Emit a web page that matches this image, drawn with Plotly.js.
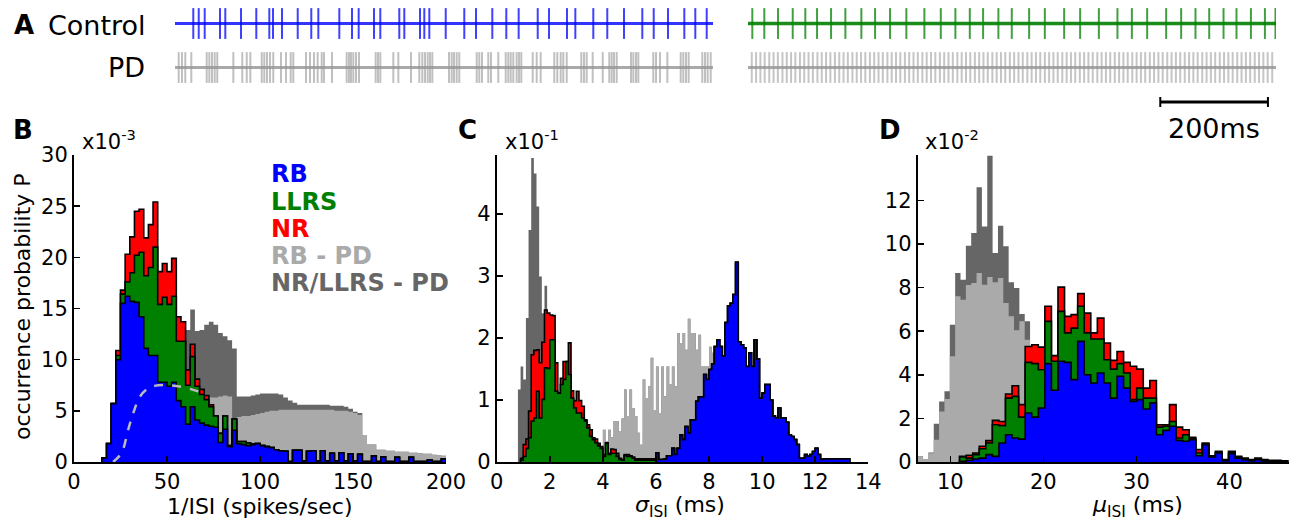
<!DOCTYPE html>
<html><head><meta charset="utf-8">
<script src="https://cdn.plot.ly/plotly-3.0.1.min.js"></script>
<style>html,body{margin:0;padding:0;background:#fff}#chart{width:1296px;height:523px}</style>
</head><body><div id="chart"></div>
<script>
// ================= DATA =================
// Panel A: spike times (ms)
const controlLeftSpikes = [34.0,44.1,55.2,83.6,93.5,122.7,151.1,175.3,182.2,198.9,228.1,253.3,266.4,305.4,329.0,341.4,369.9,381.6,416.9,426.2,455.4,463.4,472.7,503.2,537.7,559.5,589.8,615.8,638.8,674.2,695.2,728.6,744.1,777.5,803.5,834.6,868.6,889.8,916.4,946.7,967.1,988.3];
const pdLeftSpikes = [6.9,13.0,19.1,30.3,58.9,63.8,68.8,73.8,78.6,108.4,125.1,133.3,140.0,161.2,166.0,171.0,176.6,182.7,197.0,206.3,215.1,219.9,243.5,250.9,258.4,265.2,272.7,277.0,291.8,319.1,323.4,327.1,331.4,336.4,342.0,373.0,377.3,381.6,405.8,415.1,438.7,454.1,459.7,464.7,469.7,474.0,478.3,509.3,514.3,518.6,523.6,528.4,560.8,565.6,570.6,582.3,587.4,600.9,614.7,619.5,624.0,628.8,635.1,639.4,643.7,664.9,672.3,679.7,705.0,710.6,716.9,721.7,728.1,755.2,760.2,765.2,776.4,795.0,807.2,811.7,816.0,821.0,847.6,851.9,856.9,861.2,889.0,894.1,901.5,915.1,940.0,944.8,949.8,954.8,980.1,985.1,990.1,995.7];
const controlRightSpikes = [8.0,30.3,55.8,83.1,106.5,128.3,154.3,180.9,210.6,236.1,263.9,294.2,327.7,358.2,385.3,412.1,436.8,465.2,490.1,522.3,551.5,587.4,617.1,651.9,686.4,713.2,741.6,776.9,804.8,831.4,856.9,883.5,907.6,934.4,960.4,980.0];
const pdRightSpikes = [7,15,23,31,39.5,47.5,55.5,64,72,80,88,96.5,104.5,112.5,120.5,129,137,145,153,161.5,169.5,177.5,185.5,194,202,210,218,226.5,234.5,242.5,250.5,259,267,275,283,291.5,299.5,307.5,315.5,324,332,340,348,356.5,364.5,372.5,380.5,389,397,405,413,421.5,429.5,437.5,445.5,454,462,470,478,486.5,494.5,502.5,510.5,519,527,535,543,551.5,559.5,567.5,575.5,584,592,600,608,616.5,624.5,632.5,640.5,649,657,665,673,681.5,689.5,697.5,705.5,714,722,730,738,746.5,754.5,762.5,770.5,779,787,795,803,811.5,819.5,827.5,835.5,844,852,860,868,876.5,884.5,892.5,900.5,909,917,925,933,941.5,949.5,957.5,965.5,974];
const scaleBarMs = 200;

// Panel B: 1/ISI histograms (x1e-3), bin width 2.5 spikes/sec
const B_binWidth = 2.5;
const B_colStart = 15;
const B_RB = [0.4,1.8,5.7,10.0,15.5,16.2,15.7,15.6,14.2,11.1,
  10.4,10.4,7.8,7.8,7.4,7.8,6.0,5.4,3.7,5.4,
  4.1,3.8,3.6,3.5,3.4,1.9,3.2,1.5,3.1,1.8,
  1.7,1.6,1.7,1.8,1.6,1.5,1.4,1.2,1.1,1.05,
  0.05,1.15,1.15,0.1,1.05,1.1,0.1,1.1,0.1,0.85,
  0.1,0.9,0.1,0.8,0.1,0.75,0.05,0.05,0.6,0.05,
  0.5,0.05,0.05,0.45,0.05,0.05,0.45,0.05,0.05,0.05,
  0.2,0.05,0.05,0.3];
const B_LLRS = [0,0,0,0.4,0.9,1.4,2.8,4.6,6.3,7.1,
  8.6,10.6,7.6,8.3,8.0,8.4,5.8,6.4,3.8,4.9,
  3.3,2.8,2.5,1.9,1.1,0.9,1.3,0.1,1.1,0.2,
  0.3,0.25,0.05];
const B_NR = [0,0,0,0.5,0.4,2.7,3.5,4.3,4.2,3.7,
  4.2,4.4,3.2,3.3,3.2,3.7,2.4,1.9,1.5,1.2,
  0.7,0.5,0.4,0.2];
const B_pdStart = 55;
const B_PD_RB = [5.0,5.3,5.6,5.8,6.0,6.1,6.2,6.3,6.3,6.4,
  6.5,6.4,4.3,4.4,4.5,4.5,4.6,4.7,4.8,4.9,
  5.0,5.0,5.1,5.1,5.1,5.1,5.1,5.1,5.1,5.1,
  5.1,5.1,5.1,5.1,5.0,5.0,5.0,4.9,4.8,4.6,
  2.6,1.7,1.7,1.2,1.2,1.1,1.1,1.0,1.0,1.0,
  0.9,0.9,0.85,0.8,0.8,0.7,0.65,0.6];
const B_PD_NRLLRS = [7.5,7.6,7.3,9.1,6.8,6.8,7.2,7.4,7.1,6.2,
  5.8,5.5,6.8,2.0,1.9,1.9,1.9,1.9,1.9,1.8,
  1.7,1.7,1.5,1.2,0.9,0.7,0.5,0.5,0.5,0.5,
  0.5,0.5,0.5,0.4,0.5,0.5,0.4,0.3,0.1,0.2];
const B_dashX = [21,25.6,29.2,31.9,35.5,40,45.3,51.6,58.8,65,69.5];
const B_dashY = [0,0.9,3.2,4.8,6.4,7.2,7.5,7.5,7.3,7.0,6.7];

// Panel C: sigma_ISI histograms (x1e-1), bin width 0.1 ms
const C_binWidth = 0.1;
const C_rbStart = 6.0;
const C_RB = [0.15,0.04,0.04,0.05,0.1,0.1,0.22,0.12,0.22,0.44,
  0.36,0.57,0.47,0.68,0.68,0.98,1.05,1.05,1.41,1.33,
  1.49,1.58,1.86,1.97,1.86,1.71,2.25,2.52,2.56,2.70,
  3.22,1.94,1.89,1.84,1.54,1.76,1.54,1.97,1.66,1.03,
  1.11,1.25,1.25,1.0,0.74,0.71,0.87,0.71,0.71,0.64,
  0.44,0.41,0.36,0.28,0.06,0.06,0.12,0.09,0.12,0.17,
  0.22,0.12,0.04,0.05,0.05,0.05,0.05,0.05,0.05,0.05,
  0.05,0.05,0.05];
const C_nrStart = 0.9;
const C_LLRS = [0.03,0.09,0.22,0.39,0.66,0.71,1.14,0.71,1.01,1.52,
  1.51,1.97,1.97,1.14,1.11,1.25,1.33,1.62,1.41,1.03,
  0.87,0.79,0.79,0.71,0.66,0.55,0.41,0.36,0.31,0.26,
  0.22,0.09,0.30,0.12,0.14,0.14,0.09,0.04,0.03,0.10,
  0.09,0.09,0.06,0.03,0.03,0.03,0.03,0.03,0.03,0.03,
  0.03];
const C_NR = [0.03,0.19,0.15,0.43,1.07,1.09,0.67,0.89,0.92,0.93,
  0.89,0.40,0.39,0.46,0,0.10,0.29,0,0.51,0.12,
  0.12,0.35,0.20,0.19,0.02,0.05,0.11,0.03,0.06,0.04,
  0.03,0.03,0.01,0.02,0.07,0.06,0.05,0.02,0.01,0.02,
  0.03,0.01,0.02,0.02,0.02,0.02,0.02,0.02,0.02,0.02,
  0.02];
const C_pdNrStart = 0.8;
const C_PD_NRLLRS = [1.17,1.54,1.33,2.32,3.74,4.90,4.65,4.12,2.99,2.40,2.84,1.92,1.54,1.17,0.7,0.4,0.25,0.15];
const C_pdRbStart = 4.0;
const C_PD_RB = [0.52,0.33,0.52,0.40,0.66,0.66,0.49,0.70,1.17,0.74,
  1.17,0.87,0.74,0.47,0.28,1.33,1.03,1.22,1.68,0.84,
  1.54,0.79,1.54,1.06,1.54,1.25,1.54,1.22,2.08,1.92,
  2.08,1.81,2.31,2.08,2.08,1.81,2.05,1.54,1.54,1.54,
  1.86,1.76,1.5,1.3];

// Panel D: mu_ISI histograms (x1e-2)
const D_colStart = 11.0, D_colWidth = 0.705;
const D_RB = [0.03,0.08,0.14,0.18,0.34,0.26,0.87,1.25,1.10,1.05,
  2.25,2.06,2.48,4.51,3.29,4.62,4.57,3.78,5.53,4.00,
  3.62,4.08,3.62,2.93,3.93,3.39,2.78,2.86,2.43,2.71,
  1.25,1.45,1.64,0.99,0.95,1.02,0.29,0.79,0.23,0.41,
  0.06,0.38,0.18,0.11,0.06,0.11,0.05,0.03,0.03,0.03];
const D_LLRS = [0.20,0.10,0.20,0.43,0.53,1.45,0.80,1.68,1.91,1.01,
  2.32,2.45,1.75,1.94,1.33,2.29,1.35,2.36,1.61,1.92,
  2.02,1.56,1.07,1.33,0.58,0.69,0.08,0.53,0.50,0.22,
  0.35,0.19,0.22,0.11,0.30,0.05,0.12,0.05,0.03,0.03,
  0.02,0.06,0.05,0.03,0.02,0.03,0.03,0.02,0.02,0.02];
const D_NR = [0.03,0.13,0.07,0.11,0.11,0.20,0.19,0.19,0.49,0.57,
  0.73,0.87,1.04,0.69,0.26,1.11,0.76,0.62,0.58,0.91,
  0.28,0.96,0.77,0.40,0.56,0.49,1.53,0.87,0.46,0.81,
  0.11,0.07,0.77,0.50,0.23,0.06,0.16,0.03,0.03,0.05,
  0.03,0.05,0.03,0.04,0.03,0.04,0.03,0.03,0.03,0.01];
const D_pdStart = 6.5, D_pdWidth = 0.575;
const D_PD_RB = [0.26,0.14,0.40,1.02,2.32,2.89,4.85,7.60,7.44,8.12,
  8.21,8.67,8.13,8.48,8.24,8.44,7.29,6.68,6.04,6.45,
  5.61,4.2,3.3,2.4,1.5,0.8];
const D_PD_NRLLRS = [0,0,0.04,0.74,0.46,0.35,1.45,1.07,0.92,1.80,
  2.29,3.93,2.67,5.57,1.34,2.40,2.60,1.56,1.94,0.34,
  0.84];

const legendLabels = ['RB','LLRS','NR','RB - PD','NR/LLRS - PD'];

// ================= STYLE =================
const COL = {RB:'#0000ff', LLRS:'#008000', NR:'#ff0000', PDRB:'#aaaaaa', PDNR:'#666666'};
const legendColors = [COL.RB, COL.LLRS, COL.NR, COL.PDRB, COL.PDNR];
const W = 1296, H = 523;
const px = x => x / W, py = y => 1 - y / H;
const FONT = 'DejaVu Sans';

// ================= HELPERS =================
function stackSum(width, parts){
  const s = Math.min(...parts.map(p => p.start));
  const e = Math.max(...parts.map(p => p.start + p.values.length * width));
  const n = Math.round((e - s) / width);
  const out = new Array(n).fill(0);
  parts.forEach(p => {
    const off = Math.round((p.start - s) / width);
    p.values.forEach((v, i) => { out[off + i] += v; });
  });
  return {start: s, values: out};
}
function stepTrace(h, width, xa, ya, fillcolor, linecolor, lw){
  const xs = [h.start], ys = [0];
  h.values.forEach((v, i) => { xs.push(h.start + i * width); ys.push(v); });
  const end = h.start + h.values.length * width;
  xs.push(end); ys.push(h.values[h.values.length - 1]);
  xs.push(end); ys.push(0);
  return {type:'scatter', mode:'lines', x:xs, y:ys, xaxis:xa, yaxis:ya,
    line:{shape:'hv', color:linecolor, width:lw}, fill:'toself', fillcolor:fillcolor, hoverinfo:'skip'};
}
function panelTraces(xa, ya, w, pd, col, pdW){
  const tr = [];
  const pdAll = stackSum(pdW, [pd.rb, pd.nr]);
  tr.push(stepTrace(pdAll, pdW, xa, ya, COL.PDNR, 'rgba(0,0,0,0)', 0));
  tr.push(stepTrace(pd.rb, pdW, xa, ya, COL.PDRB, 'rgba(0,0,0,0)', 0));
  const red = stackSum(w, [col.rb, col.llrs, col.nr]);
  const green = stackSum(w, [col.rb, col.llrs]);
  tr.push(stepTrace(red, w, xa, ya, COL.NR, '#000', 1.6));
  tr.push(stepTrace(green, w, xa, ya, COL.LLRS, '#000', 1.6));
  tr.push(stepTrace(col.rb, w, xa, ya, COL.RB, '#000', 1.6));
  return tr;
}
const SPK_H = 0.35;
function spikeTrace(times, row, xa, ya, color, w){
  const xs = [], ys = [];
  times.forEach(t => { xs.push(t, t, null); ys.push(row - SPK_H, row + SPK_H, null); });
  return {type:'scatter', mode:'lines', x:xs, y:ys, xaxis:xa, yaxis:ya, line:{color:color, width:w}, hoverinfo:'skip'};
}
function baseTrace(row, xa, ya, x1, color, w){
  return {type:'scatter', mode:'lines', x:[0, x1], y:[row, row], xaxis:xa, yaxis:ya, line:{color:color, width:w}, hoverinfo:'skip'};
}

// ================= TRACES =================
const traces = [];
traces.push(...panelTraces('x','y', B_binWidth,
  {rb:{start:B_pdStart, values:B_PD_RB}, nr:{start:B_pdStart, values:B_PD_NRLLRS}},
  {rb:{start:B_colStart, values:B_RB}, llrs:{start:B_colStart, values:B_LLRS}, nr:{start:B_colStart, values:B_NR}}, B_binWidth));
traces.push({type:'scatter', mode:'lines', x:B_dashX, y:B_dashY, xaxis:'x', yaxis:'y',
  line:{color:'#bbbbbb', width:2.5, dash:'dash', shape:'spline'}, hoverinfo:'skip'});
traces.push(...panelTraces('x2','y2', C_binWidth,
  {rb:{start:C_pdRbStart, values:C_PD_RB}, nr:{start:C_pdNrStart, values:C_PD_NRLLRS}},
  {rb:{start:C_rbStart, values:C_RB}, llrs:{start:C_nrStart, values:C_LLRS}, nr:{start:C_nrStart, values:C_NR}}, C_binWidth));
traces.push(...panelTraces('x3','y3', D_colWidth,
  {rb:{start:D_pdStart, values:D_PD_RB}, nr:{start:D_pdStart, values:D_PD_NRLLRS}},
  {rb:{start:D_colStart, values:D_RB}, llrs:{start:D_colStart, values:D_LLRS}, nr:{start:D_colStart, values:D_NR}}, D_pdWidth));

// spike trains
const LEFT_MS = 1000, RIGHT_MS = 981;
traces.push(baseTrace(1, 'x4','y4', LEFT_MS, 'rgba(30,30,255,0.9)', 3));
traces.push(spikeTrace(controlLeftSpikes, 1, 'x4','y4', 'rgba(0,0,255,0.75)', 2));
traces.push(baseTrace(0, 'x4','y4', LEFT_MS, 'rgba(160,160,160,0.9)', 3));
traces.push(spikeTrace(pdLeftSpikes, 0, 'x4','y4', 'rgba(150,150,150,0.6)', 2));
traces.push(baseTrace(1, 'x5','y5', RIGHT_MS, 'rgba(0,128,0,0.9)', 3.5));
traces.push(spikeTrace(controlRightSpikes, 1, 'x5','y5', 'rgba(0,128,0,0.75)', 2));
traces.push(baseTrace(0, 'x5','y5', RIGHT_MS, 'rgba(160,160,160,0.9)', 3));
traces.push(spikeTrace(pdRightSpikes, 0, 'x5','y5', 'rgba(150,150,150,0.55)', 2));

// ================= LAYOUT =================
const axBase = {showline:true, linecolor:'#000', linewidth:2, mirror:false, ticks:'inside', ticklen:6, tickwidth:1.5,
  tickcolor:'#000', showgrid:false, zeroline:false, fixedrange:true,
  tickfont:{family:FONT, size:21, color:'#000'}};
const hid = {visible:false, fixedrange:true};
const trainY = [py(90), py(2)];
const layout = {
  width:W, height:H, margin:{l:0, r:0, t:0, b:0}, paper_bgcolor:'#fff', plot_bgcolor:'rgba(0,0,0,0)', showlegend:false,
  font:{family:FONT, color:'#000'},
  xaxis:{...axBase, domain:[px(74), px(446)], range:[0,200], tickvals:[0,50,100,150,200], anchor:'y'},
  yaxis:{...axBase, domain:[py(462), py(155)], range:[0,30], tickvals:[0,5,10,15,20,25,30], anchor:'x'},
  xaxis2:{...axBase, domain:[px(496.7), px(868.3)], range:[0,14], tickvals:[0,2,4,6,8,10,12,14], anchor:'y2'},
  yaxis2:{...axBase, domain:[py(462), py(155)], range:[0,4.95], tickvals:[0,1,2,3,4], anchor:'x2'},
  xaxis3:{...axBase, domain:[px(917.7), px(1289)], range:[6.5,46.4], tickvals:[10,20,30,40], anchor:'y3'},
  yaxis3:{...axBase, domain:[py(462), py(155)], range:[0,14.08], tickvals:[0,2,4,6,8,10,12], anchor:'x3'},
  xaxis4:{...hid, domain:[px(175), px(713)], range:[0, LEFT_MS], anchor:'y4'},
  yaxis4:{...hid, domain:trainY, range:[-0.511, 1.489], anchor:'x4'},
  xaxis5:{...hid, domain:[px(748), px(1276)], range:[0, RIGHT_MS], anchor:'y5'},
  yaxis5:{...hid, domain:trainY, range:[-0.511, 1.489], anchor:'x5'},
  shapes:[
    {type:'line', xref:'x5', yref:'paper', x0:766, x1:766 + scaleBarMs, y0:py(102), y1:py(102), line:{color:'#000', width:3}},
    {type:'line', xref:'x5', yref:'paper', x0:766, x1:766, y0:py(97), y1:py(107), line:{color:'#000', width:2}},
    {type:'line', xref:'x5', yref:'paper', x0:766 + scaleBarMs, x1:766 + scaleBarMs, y0:py(97), y1:py(107), line:{color:'#000', width:2}}
  ],
  annotations:[]
};
const A = layout.annotations;
function ann(text, x, y, opts){
  A.push(Object.assign({text:text, xref:'paper', yref:'paper', x:px(x), y:py(y), showarrow:false,
    xanchor:'center', yanchor:'middle', font:{family:FONT, size:21, color:'#000'}}, opts || {}));
}
ann('<b>A</b>', 24, 25, {font:{family:FONT, size:26, color:'#000'}});
ann('Control', 148, 25, {xanchor:'right', font:{family:FONT, size:27, color:'#000'}});
ann('PD', 147, 68, {xanchor:'right', font:{family:FONT, size:27, color:'#000'}});
ann('200ms', 1214, 128, {font:{family:FONT, size:27, color:'#000'}});
ann('<b>B</b>', 23, 130, {font:{family:FONT, size:26, color:'#000'}});
ann('<b>C</b>', 467, 130, {font:{family:FONT, size:26, color:'#000'}});
ann('<b>D</b>', 890, 130, {font:{family:FONT, size:26, color:'#000'}});
ann('x10<sup>-3</sup>', 80, 140, {xanchor:'left'});
ann('x10<sup>-1</sup>', 503, 140, {xanchor:'left'});
ann('x10<sup>-2</sup>', 923, 140, {xanchor:'left'});
ann('occurrence probability P', 22, 307, {textangle:-90, font:{family:FONT, size:22, color:'#000'}});
ann('1/ISI (spikes/sec)', 260, 506, {font:{family:FONT, size:22, color:'#000'}});
ann('<i>σ</i><sub>ISI</sub> (ms)', 680, 506, {font:{family:FONT, size:22, color:'#000'}});
ann('<i>μ</i><sub>ISI</sub> (ms)', 1137, 506, {font:{family:FONT, size:22, color:'#000'}});
const legY = [174, 202, 229, 256, 283];
legendLabels.forEach((t, i) => ann('<b>' + t + '</b>', 269, legY[i], {xanchor:'left', font:{family:FONT, size:24, color:legendColors[i]}}));

Plotly.newPlot('chart', traces, layout, {staticPlot:true, displayModeBar:false});
</script></body></html>
